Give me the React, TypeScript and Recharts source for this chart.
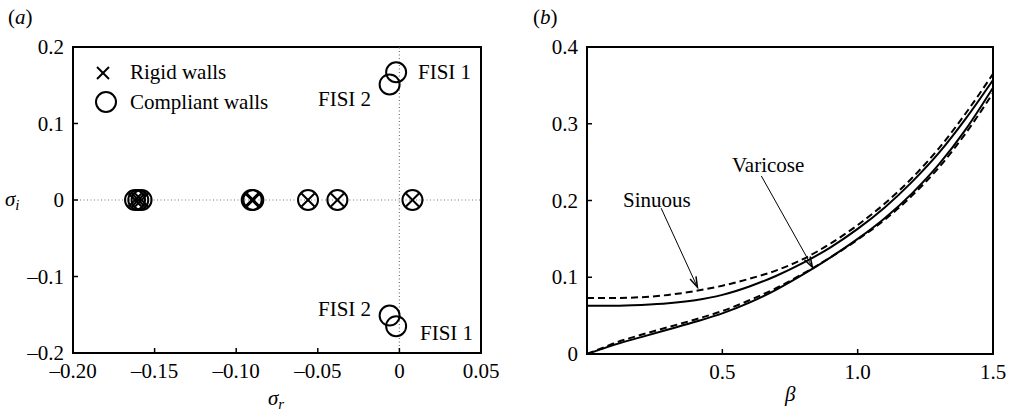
import React from "react";
import {
  ScatterChart,
  Scatter,
  LineChart,
  Line,
  XAxis,
  YAxis,
  ReferenceLine,
  ReferenceArea,
} from "recharts";

const FONT = "Liberation Serif, DejaVu Serif, serif";
const FS = 21;

// panel (a): eigenvalue spectrum
const rigidR = [-0.162, -0.16, -0.158, -0.0905, -0.0895, -0.056, -0.038, 0.008];
const rigidI = [0, 0, 0, 0, 0, 0, 0, 0];
const compliantR = [-0.162, -0.16, -0.158, -0.0905, -0.0895, -0.056, -0.038, 0.008, -0.002, -0.006, -0.006, -0.002];
const compliantI = [0, 0, 0, 0, 0, 0, 0, 0, 0.167, 0.151, -0.151, -0.165];
const aTicksX = [-0.2, -0.15, -0.1, -0.05, 0, 0.05];
const aTicksY = [-0.2, -0.1, 0, 0.1, 0.2];

// panel (b): growth rate vs beta
const beta = [0, 0.05, 0.1, 0.2, 0.3, 0.4, 0.5, 0.6, 0.7, 0.8, 0.9, 1.0, 1.1, 1.2, 1.3, 1.4, 1.5];
const sinSolid = [0.063, 0.063, 0.063, 0.064, 0.066, 0.07, 0.077, 0.088, 0.102, 0.119, 0.139, 0.163, 0.191, 0.224, 0.262, 0.307, 0.357];
const sinDash = [0.073, 0.073, 0.073, 0.074, 0.077, 0.082, 0.089, 0.098, 0.109, 0.124, 0.144, 0.168, 0.196, 0.229, 0.268, 0.314, 0.365];
const varSolid = [0, 0.006, 0.012, 0.022, 0.032, 0.042, 0.053, 0.067, 0.084, 0.104, 0.126, 0.15, 0.177, 0.209, 0.247, 0.293, 0.347];
const varDash = [0, 0.007, 0.014, 0.025, 0.035, 0.045, 0.056, 0.07, 0.086, 0.105, 0.126, 0.149, 0.175, 0.206, 0.243, 0.288, 0.34];
const bTicksX = [0.5, 1.0, 1.5];
const bTicksY = [0, 0.1, 0.2, 0.3, 0.4];

const rigid = rigidR.map((x, i) => ({ x, y: rigidI[i] }));
const compliant = compliantR.map((x, i) => ({ x, y: compliantI[i] }));
const curves = beta.map((b, i) => ({
  b,
  ss: sinSolid[i],
  sd: sinDash[i],
  vs: varSolid[i],
  vd: varDash[i],
}));

const minus = (s: string) => s.replace("-", "\u2013");
const fmtA = (v: number) => (v === 0 ? "0" : minus(v.toFixed(2)));
const fmtAY = (v: number) => (v === 0 ? "0" : minus(v.toFixed(1)));
const fmtB = (v: number) => (v === 0 ? "0" : v.toFixed(1));

const txt = { fontSize: FS, fontFamily: FONT, fill: "#000" } as const;

const XTick = (props: any) => {
  const { x, y, payload, fmt, edge } = props;
  return (
    <g>
      {!edge?.includes(payload.value) && (
        <line x1={x} y1={y} x2={x} y2={y - 5} stroke="#000" strokeWidth={1.5} />
      )}
      <text x={x} y={y + 25} textAnchor="middle" style={txt}>
        {fmt(payload.value)}
      </text>
    </g>
  );
};

const YTick = (props: any) => {
  const { x, y, payload, fmt } = props;
  return (
    <g>
      <line x1={x} y1={y} x2={x + 5} y2={y} stroke="#000" strokeWidth={1.5} />
      <text x={x - 9} y={y + 7} textAnchor="end" style={txt}>
        {fmt(payload.value)}
      </text>
    </g>
  );
};

const Cross = (p: any) => {
  const s = 6.5;
  return (
    <g stroke="#000" strokeWidth={2}>
      <line x1={p.cx - s} y1={p.cy - s} x2={p.cx + s} y2={p.cy + s} />
      <line x1={p.cx - s} y1={p.cy + s} x2={p.cx + s} y2={p.cy - s} />
    </g>
  );
};

const Ring = (p: any) => (
  <circle cx={p.cx} cy={p.cy} r={10} fill="none" stroke="#000" strokeWidth={2} />
);

const Arrow = (p: any) => {
  const { x1, y1, x2, y2 } = p;
  const ang = Math.atan2(y2 - y1, x2 - x1);
  const L = 11;
  const w = 0.3;
  const ax = x2 - L * Math.cos(ang - w);
  const ay = y2 - L * Math.sin(ang - w);
  const bx = x2 - L * Math.cos(ang + w);
  const by = y2 - L * Math.sin(ang + w);
  return (
    <g stroke="#000" fill="none">
      <line x1={x1} y1={y1} x2={x2} y2={y2} strokeWidth={1} />
      <polyline points={`${ax},${ay} ${x2},${y2} ${bx},${by}`} strokeWidth={1.5} />
    </g>
  );
};

export default function App() {
  return (
    <div style={{ position: "absolute", left: 0, top: 0, width: 1014, height: 415, background: "#fff", fontFamily: FONT }}>
      <div style={{ position: "absolute", left: 0, top: 0 }}>
        <ScatterChart width={500} height={415} margin={{ top: 47, right: 19, bottom: 0, left: 13 }}>
          <XAxis
            type="number"
            dataKey="x"
            domain={[-0.2, 0.05]}
            ticks={aTicksX}
            allowDataOverflow
            height={62}
            tickSize={0}
            tickMargin={0}
            tickLine={false}
            axisLine={{ stroke: "#000", strokeWidth: 2 }}
            tick={(p: any) => <XTick {...p} fmt={fmtA} edge={[-0.2, 0.05]} />}
            interval={0}
          />
          <YAxis
            type="number"
            dataKey="y"
            domain={[-0.2, 0.2]}
            ticks={aTicksY}
            allowDataOverflow
            width={60}
            tickSize={0}
            tickMargin={0}
            tickLine={false}
            axisLine={{ stroke: "#000", strokeWidth: 2 }}
            tick={(p: any) => <YTick {...p} fmt={fmtAY} />}
            interval={0}
          />
          <ReferenceArea x1={-0.2} x2={0.05} y1={-0.2} y2={0.2} fill="none" stroke="#000" strokeWidth={2} />
          <ReferenceLine y={0} stroke="#777" strokeWidth={1.2} strokeDasharray="1 2.5" />
          <ReferenceLine x={0} stroke="#777" strokeWidth={1.2} strokeDasharray="1 2.5" />
          <Scatter data={rigid} shape={Cross} isAnimationActive={false} />
          <Scatter data={compliant} shape={Ring} isAnimationActive={false} />
        </ScatterChart>
      </div>
      <div style={{ position: "absolute", left: 500, top: 0 }}>
        <LineChart width={514} height={415} data={curves} margin={{ top: 47, right: 21, bottom: 0, left: 27 }}>
          <XAxis
            type="number"
            dataKey="b"
            domain={[0, 1.5]}
            ticks={bTicksX}
            allowDataOverflow
            height={61}
            tickSize={0}
            tickMargin={0}
            tickLine={false}
            axisLine={{ stroke: "#000", strokeWidth: 2 }}
            tick={(p: any) => <XTick {...p} fmt={fmtB} edge={[1.5]} />}
            interval={0}
          />
          <YAxis
            type="number"
            domain={[0, 0.4]}
            ticks={bTicksY}
            allowDataOverflow
            width={60}
            tickSize={0}
            tickMargin={0}
            tickLine={false}
            axisLine={{ stroke: "#000", strokeWidth: 2 }}
            tick={(p: any) => <YTick {...p} fmt={fmtB} />}
            interval={0}
          />
          <ReferenceArea x1={0} x2={1.5} y1={0} y2={0.4} fill="none" stroke="#000" strokeWidth={2} />
          <Line type="monotone" dataKey="sd" stroke="#000" strokeWidth={2} strokeDasharray="7 4" dot={false} isAnimationActive={false} />
          <Line type="monotone" dataKey="ss" stroke="#000" strokeWidth={2} dot={false} isAnimationActive={false} />
          <Line type="monotone" dataKey="vd" stroke="#000" strokeWidth={2} strokeDasharray="7 4" dot={false} isAnimationActive={false} />
          <Line type="monotone" dataKey="vs" stroke="#000" strokeWidth={2} dot={false} isAnimationActive={false} />
          <ReferenceLine segment={[{ x: 0.274, y: 0.19 }, { x: 0.408, y: 0.087 }]} shape={Arrow} />
          <ReferenceLine segment={[{ x: 0.644, y: 0.232 }, { x: 0.833, y: 0.113 }]} shape={Arrow} />
        </LineChart>
      </div>
      <svg width={1014} height={415} style={{ position: "absolute", left: 0, top: 0, pointerEvents: "none" }}>
        <text x={8} y={24} style={txt}>(<tspan fontStyle="italic">a</tspan>)</text>
        <text x={533} y={24} style={txt}>(<tspan fontStyle="italic">b</tspan>)</text>
        <text x={5} y={206} style={txt}>
          <tspan fontStyle="italic">σ</tspan>
          <tspan fontStyle="italic" fontSize={15} dy={4}>i</tspan>
        </text>
        <text x={268} y={405} style={txt}>
          <tspan fontStyle="italic">σ</tspan>
          <tspan fontStyle="italic" fontSize={15} dy={4}>r</tspan>
        </text>
        <text x={785} y={401} style={{ ...txt, fontStyle: "italic" }}>β</text>
        {/* legend */}
        <g stroke="#000" strokeWidth={2}>
          <line x1={97} y1={67} x2={109} y2={79} />
          <line x1={97} y1={79} x2={109} y2={67} />
          <circle cx={106} cy={102} r={10} fill="none" />
        </g>
        <text x={130} y={79} style={txt}>Rigid walls</text>
        <text x={130} y={109} style={txt}>Compliant walls</text>
        <text x={418} y={79} style={txt}>FISI 1</text>
        <text x={318} y={106} style={txt}>FISI 2</text>
        <text x={318} y={316} style={txt}>FISI 2</text>
        <text x={420} y={340} style={txt}>FISI 1</text>
        <text x={623} y={207} style={txt}>Sinuous</text>
        <text x={732} y={172} style={txt}>Varicose</text>
      </svg>
    </div>
  );
}
